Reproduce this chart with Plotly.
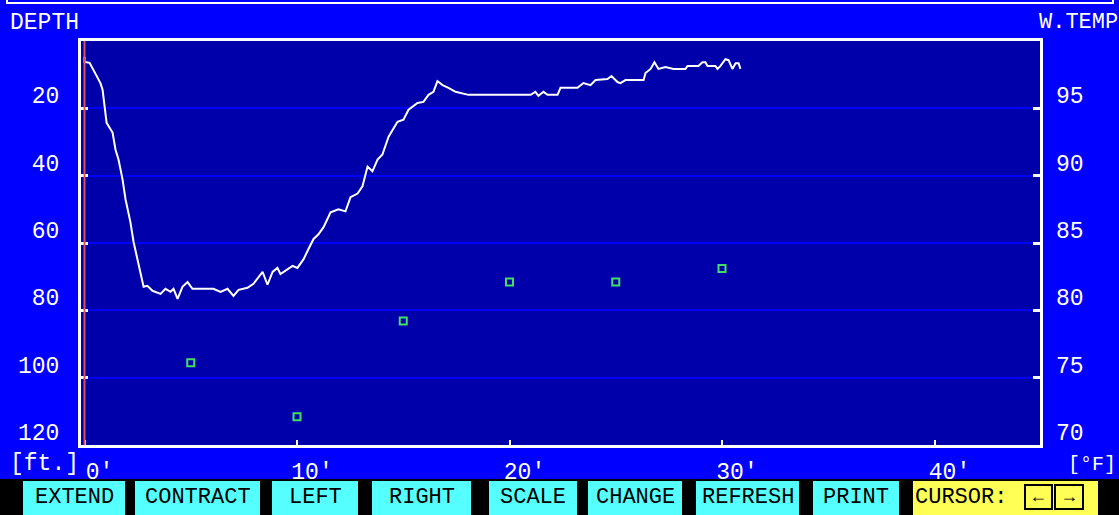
import plotly.graph_objects as go

# depth profile (distance in ft, depth in ft)
distance = [0.00, 0.00, 0.24, 0.42, 0.60, 0.75, 0.85, 0.94, 1.04, 1.32, 1.46, 1.60, 1.79, 1.93,
            2.16, 2.31, 2.49, 2.64, 2.78, 2.96, 3.20, 3.58, 3.81, 4.05, 4.19, 4.38, 4.61, 4.85,
            5.08, 5.46, 6.07, 6.40, 6.73, 7.01, 7.25, 7.67, 7.95, 8.38, 8.61, 8.85, 9.08, 9.22,
            9.55, 9.79, 10.02, 10.31, 10.54, 10.78, 11.01, 11.25, 11.58, 11.95, 12.28, 12.52,
            12.85, 13.08, 13.32, 13.55, 13.79, 14.02, 14.31, 14.73, 15.01, 15.25, 15.67, 15.95,
            16.19, 16.42, 16.61, 16.85, 17.13, 17.46, 18.07, 18.96, 20.99, 21.22, 21.36, 21.60,
            21.79, 22.26, 22.40, 23.20, 23.48, 23.81, 24.05, 24.61, 24.80, 25.08, 25.22, 25.46,
            26.31, 26.40, 26.64, 26.82, 27.01, 27.34, 27.72, 28.28, 28.38, 28.89, 29.08, 29.22,
            29.32, 29.69, 29.79, 29.93, 30.16, 30.31, 30.49, 30.64, 30.78, 30.87]
depth = [4.7, 6.2, 6.5, 8.6, 10.6, 12.5, 14.5, 19.6, 24.3, 27.2, 32.3, 35.2, 41.1, 47.0,
         53.8, 59.7, 64.8, 69.8, 73.0, 72.7, 74.2, 75.1, 73.6, 74.5, 73.6, 76.6, 73.0, 71.6,
         73.6, 73.6, 73.6, 74.5, 73.6, 75.7, 73.9, 73.3, 72.1, 68.6, 72.4, 68.6, 67.4, 69.2,
         67.7, 66.8, 67.4, 64.8, 61.8, 58.8, 57.4, 55.3, 50.9, 50.0, 50.6, 46.4,
         45.3, 43.2, 37.3, 38.7, 35.2, 33.7, 28.4, 24.0, 23.4, 20.4, 18.4, 18.1,
         16.0, 15.1, 11.9, 13.1, 13.9, 15.1, 16.0, 16.0, 16.0, 15.1, 16.3, 15.1,
         16.0, 16.0, 13.9, 13.9, 12.5, 13.1, 11.6, 11.3, 10.4, 12.2, 12.5, 11.6,
         11.6, 9.5, 8.3, 6.3, 8.3, 7.7, 8.3, 8.3, 7.4, 7.4, 6.3, 6.3,
         7.4, 7.4, 8.3, 7.4, 5.4, 5.7, 8.3, 6.6, 6.6, 8.3]

# water temperature samples
temp_distance = [5, 10, 15, 20, 25, 30]
water_temp = [76.1, 72.1, 79.2, 82.1, 82.1, 83.1]

depth_ticks = [20, 40, 60, 80, 100, 120]
temp_ticks = [70, 75, 80, 85, 90, 95]
dist_ticks = [0, 10, 20, 30, 40]
dist_labels = ["0'", "10'", "20'", "30'", "40'"]
cursor_pos = 0

buttons = ["EXTEND", "CONTRACT", "LEFT", "RIGHT", "SCALE", "CHANGE", "REFRESH", "PRINT"]
button_px = [(23, 125), (135, 260), (272, 358), (372, 471), (489, 577),
             (588, 682), (696, 799), (813, 899)]

W, H = 1119, 515
L, R, T, B = 81, 1040, 41, 445
FONT = "Liberation Mono, DejaVu Sans Mono, monospace"
BG = "#0000FF"
PLOT_BG = "#0000AA"
CYAN = "#55FFFF"


def px(x):
    return (x - L) / (R - L)


def py(y):
    return (B - y) / (B - T)


fig = go.Figure()
fig.add_trace(go.Scatter(x=distance, y=depth, mode="lines",
                         line=dict(color="white", width=2), yaxis="y"))
fig.add_trace(go.Scatter(x=temp_distance, y=water_temp, mode="markers",
                         marker=dict(symbol="square-open", size=7, color="#44DD66",
                                     line=dict(width=2, color="#44DD66")),
                         yaxis="y2"))

shapes = [
    # cursor line
    dict(type="line", xref="x", yref="paper", x0=cursor_pos, x1=cursor_pos, y0=0, y1=1,
         line=dict(color="#E05050", width=2)),
    # frame at the top of the screen
    dict(type="rect", xref="paper", yref="paper", x0=px(7), x1=px(1113), y0=py(3), y1=py(-20),
         line=dict(color="white", width=2), layer="below"),
    # function key bar
    dict(type="rect", xref="paper", yref="paper", x0=px(0), x1=px(W), y0=py(479), y1=py(520),
         fillcolor="black", line=dict(width=0)),
    dict(type="rect", xref="paper", yref="paper", x0=px(913), x1=px(1098), y0=py(481), y1=py(520),
         fillcolor="#FFFF55", line=dict(width=0)),
    dict(type="rect", xref="paper", yref="paper", x0=px(1025), x1=px(1052), y0=py(485), y1=py(509),
         line=dict(color="black", width=2)),
    dict(type="rect", xref="paper", yref="paper", x0=px(1055), x1=px(1083), y0=py(485), y1=py(509),
         line=dict(color="black", width=2)),
]
annotations = [
    dict(text="DEPTH", x=px(8), y=py(23), xanchor="left", yanchor="middle"),
    dict(text="W.TEMP", x=px(1037), y=py(23), xanchor="left", yanchor="middle",
         font=dict(size=22)),
    dict(text="[ft.]", x=px(8), y=py(464), xanchor="left", yanchor="middle"),
    dict(text="[°F]", x=px(1066), y=py(464), xanchor="left", yanchor="middle",
         font=dict(size=20)),
]
for name, (a, b) in zip(buttons, button_px):
    shapes.append(dict(type="rect", xref="paper", yref="paper", x0=px(a), x1=px(b),
                       y0=py(481), y1=py(520), fillcolor=CYAN, line=dict(width=0)))
    annotations.append(dict(text=name, x=px((a + b) / 2), y=py(498), xanchor="center",
                            yanchor="middle", font=dict(color="black", size=22)))
annotations.append(dict(text="CURSOR:", x=px(913), y=py(498), xanchor="left", yanchor="middle",
                        font=dict(color="black", size=22)))
annotations.append(dict(text="←", x=px(1038.5), y=py(497), xanchor="center", yanchor="middle",
                        font=dict(color="black", size=18)))
annotations.append(dict(text="→", x=px(1069), y=py(497), xanchor="center", yanchor="middle",
                        font=dict(color="black", size=18)))
for a in annotations:
    a.update(xref="paper", yref="paper", showarrow=False)
    f = dict(family=FONT, size=23, color="white")
    f.update(a.get("font", {}))
    a["font"] = f

tick_font = dict(family=FONT, size=23, color="white")
fig.update_layout(
    width=W, height=H,
    margin=dict(l=L, r=W - R, t=T, b=H - B),
    paper_bgcolor=BG, plot_bgcolor=PLOT_BG,
    showlegend=False, hovermode=False,
    shapes=shapes, annotations=annotations,
    xaxis=dict(range=[-0.165, 44.965], tickvals=dist_ticks, ticktext=dist_labels,
               ticks="inside", ticklen=5, tickwidth=2, tickcolor="white",
               showline=True, linecolor="white", linewidth=3, mirror=True,
               showgrid=False, zeroline=False, tickfont=tick_font,
               ticklabelshift=15, ticklabelstandoff=3),
    yaxis=dict(range=[120, 0], tickvals=depth_ticks, ticks="inside", ticklen=7, tickwidth=3,
               tickcolor="white", showline=True, linecolor="white", linewidth=3, mirror=True,
               showgrid=True, gridcolor="#0000FF", gridwidth=2, zeroline=False,
               tickfont=tick_font, ticklabelshift=13, ticklabelstandoff=14),
    yaxis2=dict(range=[70, 100], overlaying="y", side="right", tickvals=temp_ticks,
                ticks="inside", ticklen=7, tickwidth=3, tickcolor="white",
                showgrid=False, zeroline=False, tickfont=tick_font,
                ticklabelshift=-13, ticklabelstandoff=15),
)

fig.write_html("out.html", config={"displayModeBar": False},
               post_script="document.body.style.margin='0';")
